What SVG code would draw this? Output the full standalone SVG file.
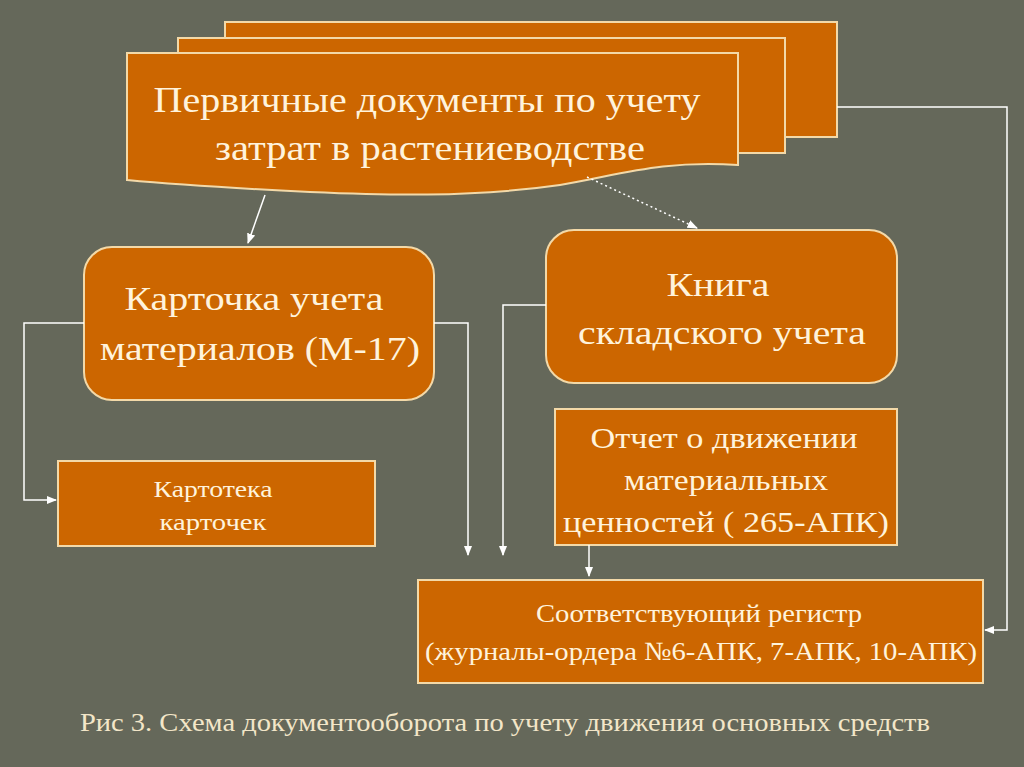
<svg xmlns="http://www.w3.org/2000/svg" width="1024" height="767" viewBox="0 0 1024 767">
<style>
.b{fill:#cc6600;stroke:#f3d9a8;stroke-width:2}
.t{font-family:"Liberation Serif",serif;fill:#fff3dc;text-anchor:middle}
.c{fill:none;stroke:#ffffff;stroke-width:1.5}
</style>
<defs>
<marker id="a" viewBox="0 0 10 10" refX="9" refY="5" markerWidth="7" markerHeight="7" orient="auto"><path d="M0,1 L10,5 L0,9 z" fill="#fff"/></marker>
</defs>
<rect width="1024" height="767" fill="#65685a"/>
<g id="docs">
<rect class="b" x="225" y="22" width="612" height="115"/>
<rect class="b" x="178" y="38" width="607" height="115"/>
<path class="b" d="M127,53 H738 V165 C660,160 620,175 560,185 C470,198 380,195 310,192 C230,188 180,185 127,180 Z"/>
<text class="t" x="427" y="112" font-size="36" textLength="547" lengthAdjust="spacingAndGlyphs">Первичные документы по учету</text>
<text class="t" x="430" y="160" font-size="36" textLength="430" lengthAdjust="spacingAndGlyphs">затрат в растениеводстве</text>
</g>
<g id="card">
<rect class="b" x="84" y="247" width="350" height="153" rx="28"/>
<text class="t" x="254" y="310" font-size="33" textLength="259" lengthAdjust="spacingAndGlyphs">Карточка учета</text>
<text class="t" x="260" y="360" font-size="33" textLength="320" lengthAdjust="spacingAndGlyphs">материалов (М-17)</text>
</g>
<g id="book">
<rect class="b" x="546" y="230" width="351" height="153" rx="28"/>
<text class="t" x="718" y="296" font-size="33" textLength="103" lengthAdjust="spacingAndGlyphs">Книга</text>
<text class="t" x="722" y="344" font-size="33" textLength="288" lengthAdjust="spacingAndGlyphs">складского учета</text>
</g>
<g id="filecab">
<rect class="b" x="58" y="461" width="317" height="85"/>
<text class="t" x="213" y="497" font-size="24" textLength="119" lengthAdjust="spacingAndGlyphs">Картотека</text>
<text class="t" x="213" y="530" font-size="24" textLength="107" lengthAdjust="spacingAndGlyphs">карточек</text>
</g>
<g id="report">
<rect class="b" x="555" y="409" width="342" height="136"/>
<text class="t" x="724" y="448" font-size="29" textLength="267" lengthAdjust="spacingAndGlyphs">Отчет о движении</text>
<text class="t" x="726" y="490" font-size="29" textLength="204" lengthAdjust="spacingAndGlyphs">материальных</text>
<text class="t" x="726" y="532" font-size="29" textLength="326" lengthAdjust="spacingAndGlyphs">ценностей ( 265-АПК)</text>
</g>
<g id="register">
<rect class="b" x="418" y="580" width="565" height="103"/>
<text class="t" x="699" y="622" font-size="26" textLength="326" lengthAdjust="spacingAndGlyphs">Соответствующий регистр</text>
<text class="t" x="701" y="660" font-size="26" textLength="552" lengthAdjust="spacingAndGlyphs">(журналы-ордера №6-АПК, 7-АПК, 10-АПК)</text>
</g>
<g id="connectors">
<path class="c" d="M265,195 L248,243" stroke-width="2.5" marker-end="url(#a)"/>
<path class="c" d="M587,177 L697,228" stroke-width="3.5" stroke-dasharray="2,3" marker-end="url(#a)"/>
<path class="c" d="M837,107 H1007 V630 H985" marker-end="url(#a)"/>
<path class="c" d="M84,323 H24 V500 H56" marker-end="url(#a)"/>
<path class="c" d="M434,323 H468 V555" marker-end="url(#a)"/>
<path class="c" d="M546,305 H503 V555" marker-end="url(#a)"/>
<path class="c" d="M589,545 V576" marker-end="url(#a)"/>
</g>
<text x="80" y="731" font-family="Liberation Serif,serif" font-size="25" fill="#f3e6c8" textLength="850" lengthAdjust="spacingAndGlyphs">Рис 3. Схема документооборота по учету движения основных средств</text>
</svg>
